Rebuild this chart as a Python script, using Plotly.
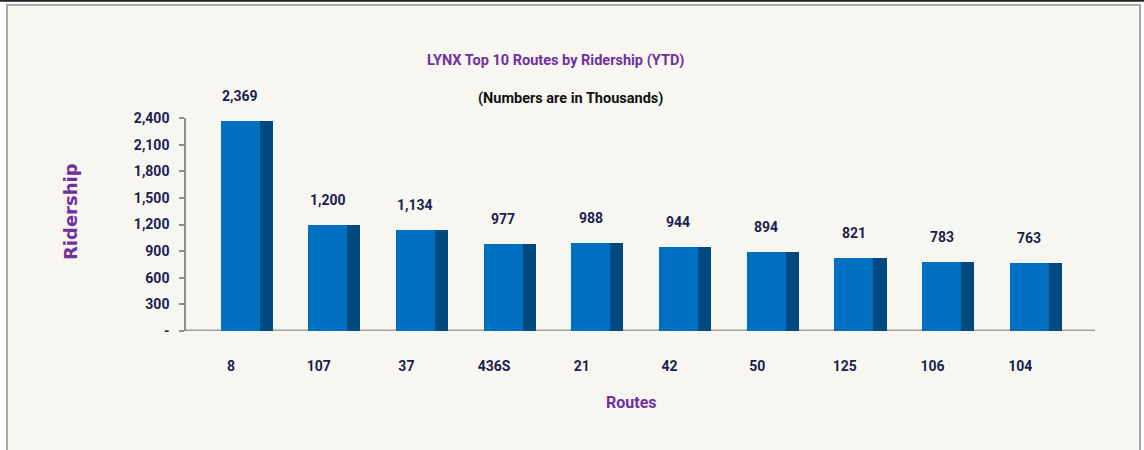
import plotly.graph_objects as go

# ---- data ----
routes = ["8", "107", "37", "436S", "21", "42", "50", "125", "106", "104"]
ridership = [2369, 1200, 1134, 977, 988, 944, 894, 821, 783, 763]
value_labels = ["2,369", "1,200", "1,134", "977", "988", "944", "894", "821", "783", "763"]
y_tickvals = [0, 300, 600, 900, 1200, 1500, 1800, 2100, 2400]
y_ticktext = ["-", "300", "600", "900", "1,200", "1,500", "1,800", "2,100", "2,400"]

title_text = "LYNX Top 10 Routes by Ridership (YTD)"
subtitle_text = "(Numbers are in Thousands)"

# ---- styling ----
W, H = 1144, 450
L, R, T, B = 186, 49, 118, 119
PW, PH = W - L - R, H - T - B
FONT = "Roboto, Liberation Sans Narrow, Arial Narrow, sans-serif"
NAVY = "#1b1f4e"
PURPLE = "#7030a0"
FRONT = "#0070c0"
SIDE = "#004a80"
BG = "#f7f6f1"

def px_x(p):
    return (p - L) / PW

def px_y(p):
    return (H - B - p) / PH

fig = go.Figure()
fig.add_trace(go.Bar(
    x=routes, y=ridership, width=0.445, offset=-0.2225,
    marker=dict(color=FRONT, line=dict(width=0)), hoverinfo="skip", showlegend=False,
))
fig.add_trace(go.Bar(
    x=routes, y=ridership, width=0.15, offset=0.2225,
    marker=dict(color=SIDE, line=dict(width=0)), hoverinfo="skip", showlegend=False,
))

annotations = []
for i, (v, t) in enumerate(zip(ridership, value_labels)):
    annotations.append(dict(
        x=i, y=v, xref="x", yref="y", text=t, showarrow=False,
        xanchor="center", yanchor="middle",
        yshift=25, font=dict(family=FONT, size=14, color=NAVY, weight="bold"),
    ))

annotations += [
    dict(x=px_x(555), y=px_y(60), xref="paper", yref="paper", text=title_text,
         xanchor="center", yanchor="middle",
         showarrow=False, font=dict(family=FONT, size=14.5, color=PURPLE, weight="bold")),
    dict(x=px_x(570), y=px_y(98), xref="paper", yref="paper", text=subtitle_text,
         xanchor="center", yanchor="middle",
         showarrow=False, font=dict(family=FONT, size=14.5, color="#111111", weight="bold")),
    dict(x=px_x(631), y=px_y(402), xref="paper", yref="paper", text="Routes",
         xanchor="center", yanchor="middle",
         showarrow=False, font=dict(family=FONT, size=16, color=PURPLE, weight="bold")),
    dict(x=px_x(70), y=px_y(212), xref="paper", yref="paper", text="Ridership",
         xanchor="center", yanchor="middle",
         textangle=-90, showarrow=False,
         font=dict(family="DejaVu Sans, Verdana, sans-serif", size=18, color=PURPLE, weight="bold")),
]

shapes = [
    # frame background
    dict(type="rect", xref="paper", yref="paper", layer="below",
         x0=px_x(7), x1=px_x(1140), y0=px_y(452), y1=px_y(5),
         fillcolor=BG, line=dict(color="#a8a8a8", width=2)),
    # top dark line
    dict(type="line", xref="paper", yref="paper",
         x0=px_x(0), x1=px_x(1144), y0=px_y(0.8), y1=px_y(0.8),
         line=dict(color="#222222", width=2)),
    # floor
    dict(type="line", xref="paper", yref="y", layer="below",
         x0=0, x1=1, y0=0, y1=0, line=dict(color="#a0a0a0", width=3)),
]

fig.update_layout(
    width=W, height=H,
    margin=dict(l=L, r=R, t=T, b=B, pad=0),
    paper_bgcolor="white",
    plot_bgcolor="rgba(0,0,0,0)",
    barmode="overlay",
    bargap=0,
    showlegend=False,
    annotations=annotations,
    shapes=shapes,
    xaxis=dict(
        type="category", range=[-0.616, 9.75], showgrid=False, zeroline=False,
        showline=False, ticks="", ticklabelstandoff=25, ticklabelshift=-9,
        tickfont=dict(family=FONT, size=14, color=NAVY, weight="bold"), fixedrange=True,
    ),
    yaxis=dict(
        range=[0, 2400], tickvals=y_tickvals, ticktext=y_ticktext,
        showgrid=False, zeroline=False, showline=True, linecolor="#8c8c8c", linewidth=1.5,
        ticks="outside", ticklen=5, tickcolor="#8c8c8c", tickwidth=1.5,
        ticklabelstandoff=7,
        tickfont=dict(family=FONT, size=14, color=NAVY, weight="bold"), fixedrange=True,
    ),
)

fig.write_html("out.html", config={"displayModeBar": False},
               post_script="document.body.style.margin='0';")
